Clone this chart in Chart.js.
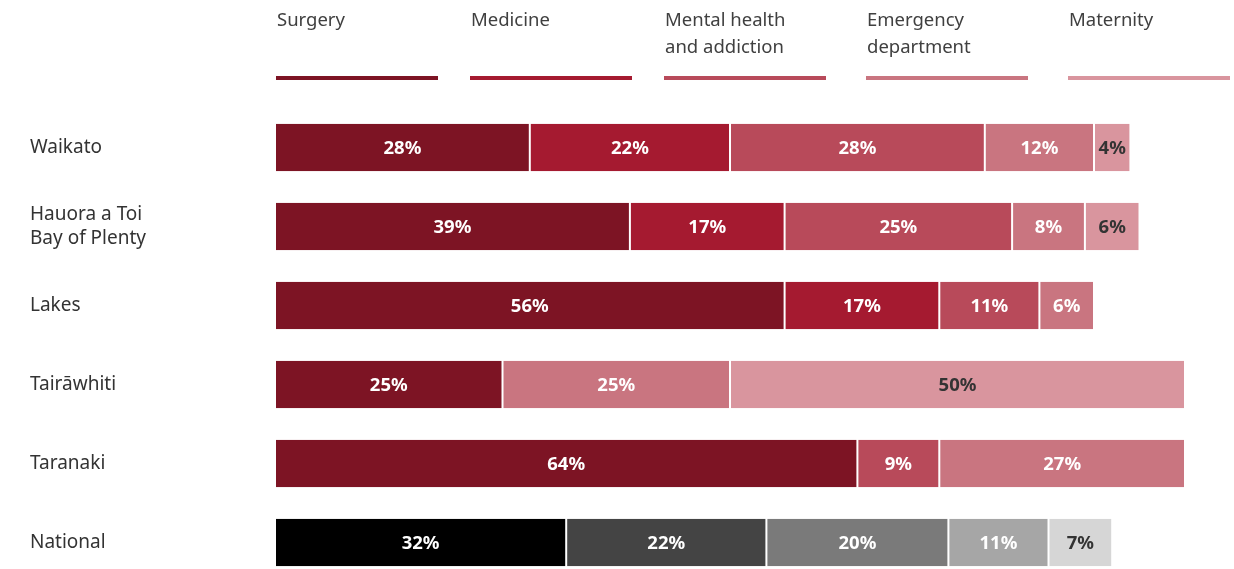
<!DOCTYPE html>
<html>
<head>
<meta charset="utf-8">
<script src="https://cdn.jsdelivr.net/npm/chart.js@4"></script>
<style>
  html, body { margin: 0; padding: 0; background: #fff; overflow: hidden; }
  #wrap { width: 1234px; height: 600px; }
</style>
</head>
<body>
<div id="wrap"><canvas id="chart"></canvas></div>
<script>
// Share of cases by service, per district
const regions = ['Waikato', ['Hauora a Toi', 'Bay of Plenty'], 'Lakes', 'Tairāwhiti', 'Taranaki', 'National'];
const services = ['Surgery', 'Medicine', ['Mental health', 'and addiction'], ['Emergency', 'department'], 'Maternity'];

const surgery   = [28, 39, 56, 25, 64, 32];
const medicine  = [22, 17, 17, null, null, 22];
const mental    = [28, 25, 11, null, 9, 20];
const emergency = [12, 8, 6, 25, 27, 11];
const maternity = [4, 6, null, 50, null, 7];

const regionColours = ['#7d1424', '#a51a30', '#b84a5a', '#c97580', '#d9959e'];
const nationalColours = ['#000000', '#444444', '#7a7a7a', '#a6a6a6', '#d6d6d6'];
const darkLabel = [false, false, false, false, true];   // label colour on regional bars
const nationalDark = [false, false, false, false, true];

const FONT = '"Noto Sans", "Open Sans", sans-serif';

const series = [surgery, medicine, mental, emergency, maternity];
const datasets = series.map((vals, i) => ({
    label: services[i],
    data: vals,
    backgroundColor: regions.map((r, j) => j === regions.length - 1 ? nationalColours[i] : regionColours[i]),
    borderColor: '#ffffff',
    borderWidth: { left: 1, right: 1, top: 0, bottom: 0 },
    borderSkipped: false,
    barPercentage: 0.6,
    categoryPercentage: 1,
}));

// draws percentage labels inside each segment
const segmentLabels = {
    id: 'segmentLabels',
    afterDatasetsDraw(chart) {
        const { ctx } = chart;
        ctx.save();
        ctx.font = 'bold 18.5px ' + FONT;
        ctx.textAlign = 'center';
        ctx.textBaseline = 'middle';
        chart.data.datasets.forEach((ds, i) => {
            chart.getDatasetMeta(i).data.forEach((bar, j) => {
                const v = ds.data[j];
                if (v == null) return;
                const national = j === regions.length - 1;
                const dark = national ? nationalDark[i] : darkLabel[i];
                ctx.fillStyle = dark ? '#333333' : '#ffffff';
                const cx = (bar.x + bar.base) / 2;
                ctx.fillText(v + '%', cx, bar.y + 1);
            });
        });
        ctx.restore();
    }
};

// legend: label text over a coloured rule
const legendX = [277, 471, 665, 867, 1069];
const lineLegend = {
    id: 'lineLegend',
    afterDraw(chart) {
        const { ctx } = chart;
        const ruleLen = 162;
        ctx.save();
        ctx.font = '18.5px ' + FONT;
        ctx.textBaseline = 'middle';
        ctx.textAlign = 'left';
        services.forEach((name, i) => {
            const x = legendX[i];
            const lines = Array.isArray(name) ? name : [name];
            ctx.fillStyle = '#404040';
            lines.forEach((t, k) => ctx.fillText(t, x, 21 + k * 27));
            ctx.fillStyle = regionColours[i];
            ctx.fillRect(x - 1, 76, ruleLen, 4);
        });
        ctx.restore();
    }
};

new Chart(document.getElementById('chart'), {
    type: 'bar',
    data: { labels: regions, datasets },
    options: {
        indexAxis: 'y',
        responsive: true,
        maintainAspectRatio: false,
        animation: false,
        layout: { padding: { left: 30, right: 49, top: 108, bottom: 18 } },
        plugins: {
            legend: { display: false },
            tooltip: { enabled: false },
        },
        scales: {
            x: {
                stacked: true, min: 0, max: 100, display: false,
            },
            y: {
                stacked: true,
                grid: { display: false },
                border: { display: false },
                afterFit(scale) { scale.width = 245; },
                ticks: {
                    crossAlign: 'far',
                    color: '#333333',
                    font: { family: FONT, size: 19, lineHeight: 1.3 },
                    padding: 0,
                },
            },
        },
    },
    plugins: [segmentLabels, lineLegend],
});
</script>
</body>
</html>
